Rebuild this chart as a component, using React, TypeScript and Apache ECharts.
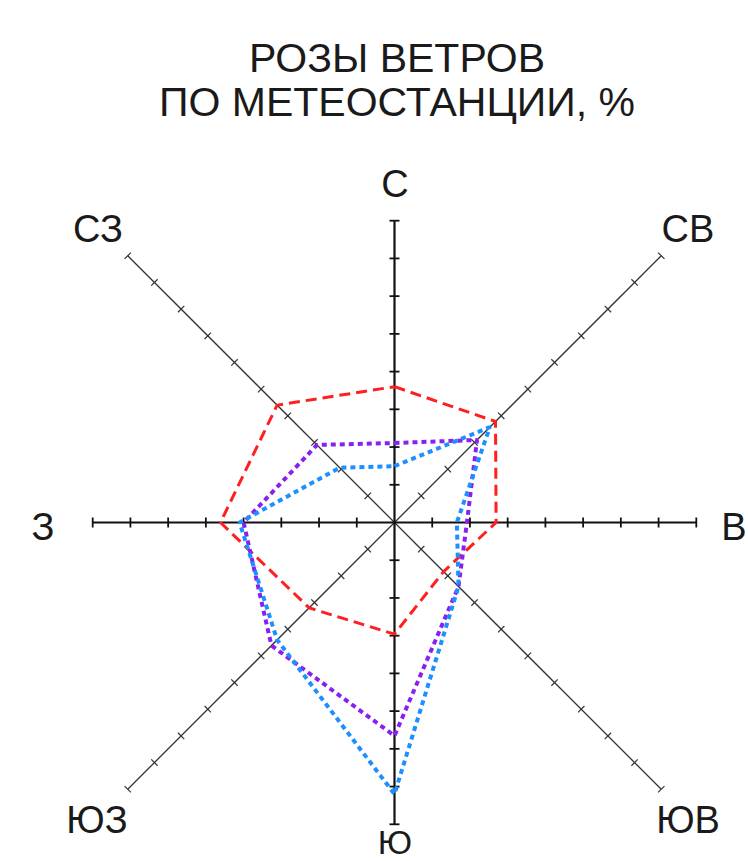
import React, { useEffect, useRef } from "react";
import * as echarts from "echarts";

const DIRECTIONS = ["С", "СВ", "В", "ЮВ", "Ю", "ЮЗ", "З", "СЗ"];
const TITLE_LINES = ["РОЗЫ ВЕТРОВ", "ПО МЕТЕОСТАНЦИИ, %"];
const SERIES_NAMES = ["Роза 1", "Роза 2", "Роза 3"];
const RED_VALUES = [13.5, 14.2, 10.1, 6.9, 11.1, 12.0, 17.3, 16.5];
const PURPLE_VALUES = [7.9, 11.6, 7.2, 9.0, 21.2, 17.3, 15.0, 10.9];
const BLUE_VALUES = [5.6, 13.4, 6.2, 9.0, 27.0, 16.5, 15.4, 7.7];
const TICK_STEP = 3.75;
const AXIS_TICK_COUNTS = [8, 10, 8, 10, 8, 10, 8, 10];
const AXIS_MAX = 30;

const FONT = "'Liberation Sans', Arial, Helvetica, sans-serif";

function toXY(values: number[]) {
  const pts = values.map((v, i) => {
    const a = (i * Math.PI) / 4;
    return [v * Math.sin(a), v * Math.cos(a)];
  });
  pts.push(pts[0]);
  return pts;
}

export default function App() {
  const ref = useRef<HTMLDivElement>(null);
  useEffect(() => {
    if (!ref.current) return;
    const chart = echarts.init(ref.current, null, { renderer: "svg" });
    const cx = 394.5;
    const cy = 522.5;
    const half = 301.8;

    const axisData = [1, 3, 5, 7, 0, 2, 4, 6].map((i) => [i]);

    const labelPos: Record<string, [number, number, number]> = {
      "С": [395, 184, 38],
      "СВ": [688, 229, 38],
      "В": [734, 527, 38],
      "ЮВ": [688, 820, 38],
      "Ю": [395, 842, 34],
      "ЮЗ": [97, 820, 38],
      "З": [43, 527, 38],
      "СЗ": [98, 229, 38],
    };
    const titleY = [58, 102];

    const textStyle = (text: string, size: number) => ({
      text,
      fontFamily: FONT,
      fontSize: size,
      fill: "#1a1a1a",
      align: "center",
      verticalAlign: "middle",
    });

    chart.setOption({
      animation: false,
      backgroundColor: "#ffffff",
      grid: {
        left: cx - half,
        top: cy - half,
        width: half * 2,
        height: half * 2,
      },
      xAxis: { type: "value", min: -AXIS_MAX, max: AXIS_MAX, show: false },
      yAxis: { type: "value", min: -AXIS_MAX, max: AXIS_MAX, show: false },
      graphic: [
        ...TITLE_LINES.map((t, i) => ({
          type: "text",
          x: 397,
          y: titleY[i],
          style: textStyle(t, 41),
        })),
        ...DIRECTIONS.map((d) => ({
          type: "text",
          x: labelPos[d][0],
          y: labelPos[d][1],
          style: textStyle(d, labelPos[d][2]),
        })),
      ],
      series: [
        {
          type: "custom",
          coordinateSystem: "cartesian2d",
          clip: false,
          silent: true,
          z: 1,
          data: axisData,
          renderItem: (params: any, api: any) => {
            const i = api.value(0);
            const n = AXIS_TICK_COUNTS[i];
            const a = (i * Math.PI) / 4;
            const sx = Math.sin(a);
            const sy = Math.cos(a);
            const cardinal = i % 2 === 0;
            const o = api.coord([0, 0]);
            const e = api.coord([n * TICK_STEP * sx, n * TICK_STEP * sy]);
            const color = cardinal ? "#111" : "#333";
            const children: any[] = [
              {
                type: "line",
                shape: { x1: o[0], y1: o[1], x2: e[0], y2: e[1] },
                style: { stroke: color, lineWidth: cardinal ? 2.2 : 1.3 },
              },
            ];
            const px = sy;
            const py = sx;
            const h = cardinal ? 5 : 4.5;
            for (let k = 1; k <= n; k++) {
              const p = api.coord([k * TICK_STEP * sx, k * TICK_STEP * sy]);
              children.push({
                type: "line",
                shape: {
                  x1: p[0] - px * h,
                  y1: p[1] - py * h,
                  x2: p[0] + px * h,
                  y2: p[1] + py * h,
                },
                style: { stroke: color, lineWidth: cardinal ? 1.8 : 1.2 },
              });
            }
            return { type: "group", children };
          },
        },
        {
          name: SERIES_NAMES[0],
          type: "line",
          z: 3,
          data: toXY(RED_VALUES),
          showSymbol: false,
          symbol: "none",
          lineStyle: { color: "#ff1f1f", width: 3, type: [11, 6] },
        },
        {
          name: SERIES_NAMES[1],
          type: "line",
          z: 4,
          data: toXY(PURPLE_VALUES),
          showSymbol: false,
          symbol: "none",
          lineStyle: { color: "#8a1ff2", width: 4, type: [5, 4] },
        },
        {
          name: SERIES_NAMES[2],
          type: "line",
          z: 5,
          data: toXY(BLUE_VALUES),
          showSymbol: false,
          symbol: "none",
          lineStyle: { color: "#1e8fff", width: 4, type: [5, 4] },
        },
      ],
    });
    return () => chart.dispose();
  }, []);
  return (
    <div
      ref={ref}
      style={{ position: "fixed", left: 0, top: 0, width: 748, height: 861 }}
    />
  );
}
